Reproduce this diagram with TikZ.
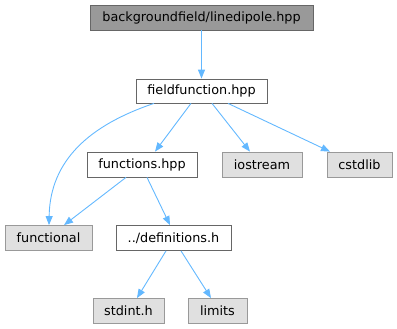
\documentclass[tikz,border=0pt]{standalone}
\usepackage{fontspec}
\setmainfont{DejaVu Sans}
\usetikzlibrary{arrows.meta}
\definecolor{edgeblue}{HTML}{63B8FF}
\definecolor{darkborder}{HTML}{666666}
\definecolor{lightborder}{HTML}{999999}
\definecolor{topfill}{HTML}{999999}
\definecolor{grayfill}{HTML}{E0E0E0}
\tikzset{
  base/.style={draw, line width=0.8pt, inner sep=0pt, minimum height=25pt, font=\fontsize{12.8}{14}\selectfont, text=black},
  topbox/.style={base, draw=darkborder, fill=topfill},
  whitebox/.style={base, draw=darkborder, fill=white},
  graybox/.style={base, draw=lightborder, fill=grayfill},
  conn/.style={draw=edgeblue, line width=0.9pt, -{Triangle[length=9pt,width=7pt]}}
}
\begin{document}
\begin{tikzpicture}[x=1pt,y=-1pt]
\useasboundingbox (0,0) rectangle (397,329);
\node[topbox, minimum width=223pt] (top) at (201.5,17.5) {backgroundfield/linedipole.hpp};
\node[whitebox, minimum width=131pt, minimum height=24pt] (ff) at (201.5,91) {fieldfunction.hpp};
\node[whitebox, minimum width=110pt] (fn) at (142,164.5) {functions.hpp};
\node[graybox, minimum width=80pt] (io) at (262,164.5) {iostream};
\node[graybox, minimum width=65pt] (cs) at (359.5,164.5) {cstdlib};
\node[graybox, minimum width=87pt] (fl) at (48.5,238) {functional};
\node[whitebox, minimum width=115pt] (df) at (173.5,238) {../definitions.h};
\node[graybox, minimum width=71pt] (si) at (128.5,311) {stdint.h};
\node[graybox, minimum width=59pt] (li) at (217.5,311) {limits};
\draw[conn] (top) -- (ff);
\draw[conn] (ff.south -| 191,0) -- (fn.north -| 155,0);
\draw[conn] (ff.south -| 212,0) -- (io.north -| 250,0);
\draw[conn] (ff.south -| 228,0) -- (cs.north -| 330,0);
\draw[conn] (ff.south -| 154,0) .. controls (90,125) and (50,160) .. (fl.north -| 49,0);
\draw[conn] (fn.south -| 126,0) -- (fl.north -| 64,0);
\draw[conn] (fn.south -| 147,0) -- (df.north -| 170,0);
\draw[conn] (df.south -| 166,0) -- (si.north -| 137,0);
\draw[conn] (df.south -| 181,0) -- (li.north -| 211,0);
\end{tikzpicture}
\end{document}
